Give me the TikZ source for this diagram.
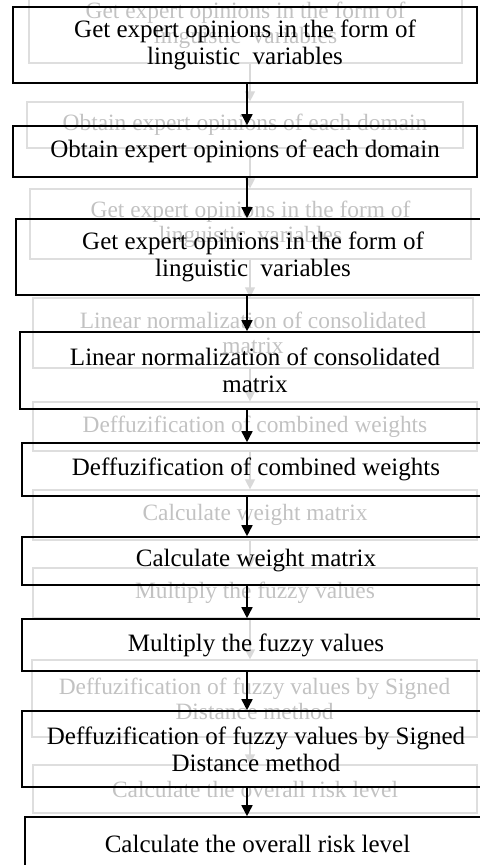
\documentclass[tikz,border=0pt]{standalone}
\usepackage{fontspec}
\setmainfont{Liberation Serif}
\usetikzlibrary{arrows.meta}

\tikzset{
  stepbox/.style={draw, line width=0.8pt, align=center, inner sep=0pt,
    font=\fontsize{12.5}{13.5}\selectfont},
  ghostbox/.style={draw=black!13, line width=0.6pt, align=center, inner sep=0pt,
    text=black!24, font=\fontsize{11.7}{12.6}\selectfont},
  flow/.style={-{Triangle[length=5.5pt,width=5.5pt]}, line width=0.8pt},
  ghostflow/.style={-{Triangle[length=5pt,width=5pt]}, line width=0.6pt, draw=black!15, fill=black!15}
}

\begin{document}
\begin{tikzpicture}[x=0.5pt, y=-0.5pt]
            \useasboundingbox (0,0) rectangle (479,865);

            % faded copy behind the chart
            \node[ghostbox, minimum width=216.5pt, minimum height=38pt] (g1) at (245.5,25) {Get expert opinions in the form of\\ linguistic~ variables};
            \node[ghostbox, minimum width=218pt, minimum height=23pt] (g2) at (245,125) {Obtain expert opinions of each domain};
            \node[ghostbox, minimum width=220.5pt, minimum height=35pt] (g3) at (250.5,224) {Get expert opinions in the form of\\ linguistic~ variables};
            \node[ghostbox, minimum width=220pt, minimum height=35pt] (g4) at (253,333) {Linear normalization of consolidated\\ matrix};
            \node[ghostbox, minimum width=222pt, minimum height=24.5pt] (g5) at (255,426.5) {Deffuzification of combined weights};
            \node[ghostbox, minimum width=222pt, minimum height=25pt] (g6) at (255,515) {Calculate weight matrix};
            \node[ghostbox, minimum width=222pt, minimum height=25pt] (g7) at (255,593) {Multiply the fuzzy values};
            \node[ghostbox, minimum width=222.5pt, minimum height=38.5pt] (g8) at (254.5,698.5) {Deffuzification of fuzzy values by Signed\\ Distance method};
            \node[ghostbox, minimum width=222pt, minimum height=24pt] (g9) at (255,789) {Calculate the overall risk level};

            \coordinate (gx) at (250,0);
            \foreach \i [remember=\i as \last (initially 1)] in {2,...,9}{
              \draw[ghostflow] (g\last.south -| gx) -- (g\i.north -| gx);
            }

            % the chart
            \node[stepbox, minimum width=232pt, minimum height=38pt] (b1) at (245,45) {Get expert opinions in the form of\\ linguistic~ variables};
            \node[stepbox, minimum width=232pt, minimum height=25.5pt] (b2) at (245,151.5) {Obtain expert opinions of each domain};
            \node[stepbox, minimum width=237pt, minimum height=38pt] (b3) at (253,257) {Get expert opinions in the form of\\ linguistic~ variables};
            \node[stepbox, minimum width=235pt, minimum height=38.5pt] (b4) at (255,370.5) {Linear normalization of consolidated\\ matrix};
            \node[stepbox, minimum width=234pt, minimum height=26.5pt] (b5) at (256,469.5) {Deffuzification of combined weights};
            \node[stepbox, minimum width=234pt, minimum height=24pt] (b6) at (256,561) {Calculate weight matrix};
            \node[stepbox, minimum width=234pt, minimum height=26pt] (b7) at (256,645) {Multiply the fuzzy values};
            \node[stepbox, minimum width=234pt, minimum height=38pt] (b8) at (256,749) {Deffuzification of fuzzy values by Signed\\ Distance method};
            \node[stepbox, minimum width=232.5pt, minimum height=26.5pt] (b9) at (257.5,843.5) {Calculate the overall risk level};

            \coordinate (ax) at (247,0);
            \foreach \i [remember=\i as \last (initially 1)] in {2,...,9}{
              \draw[flow] (b\last.south -| ax) -- (b\i.north -| ax);
            }
\end{tikzpicture}
\end{document}
